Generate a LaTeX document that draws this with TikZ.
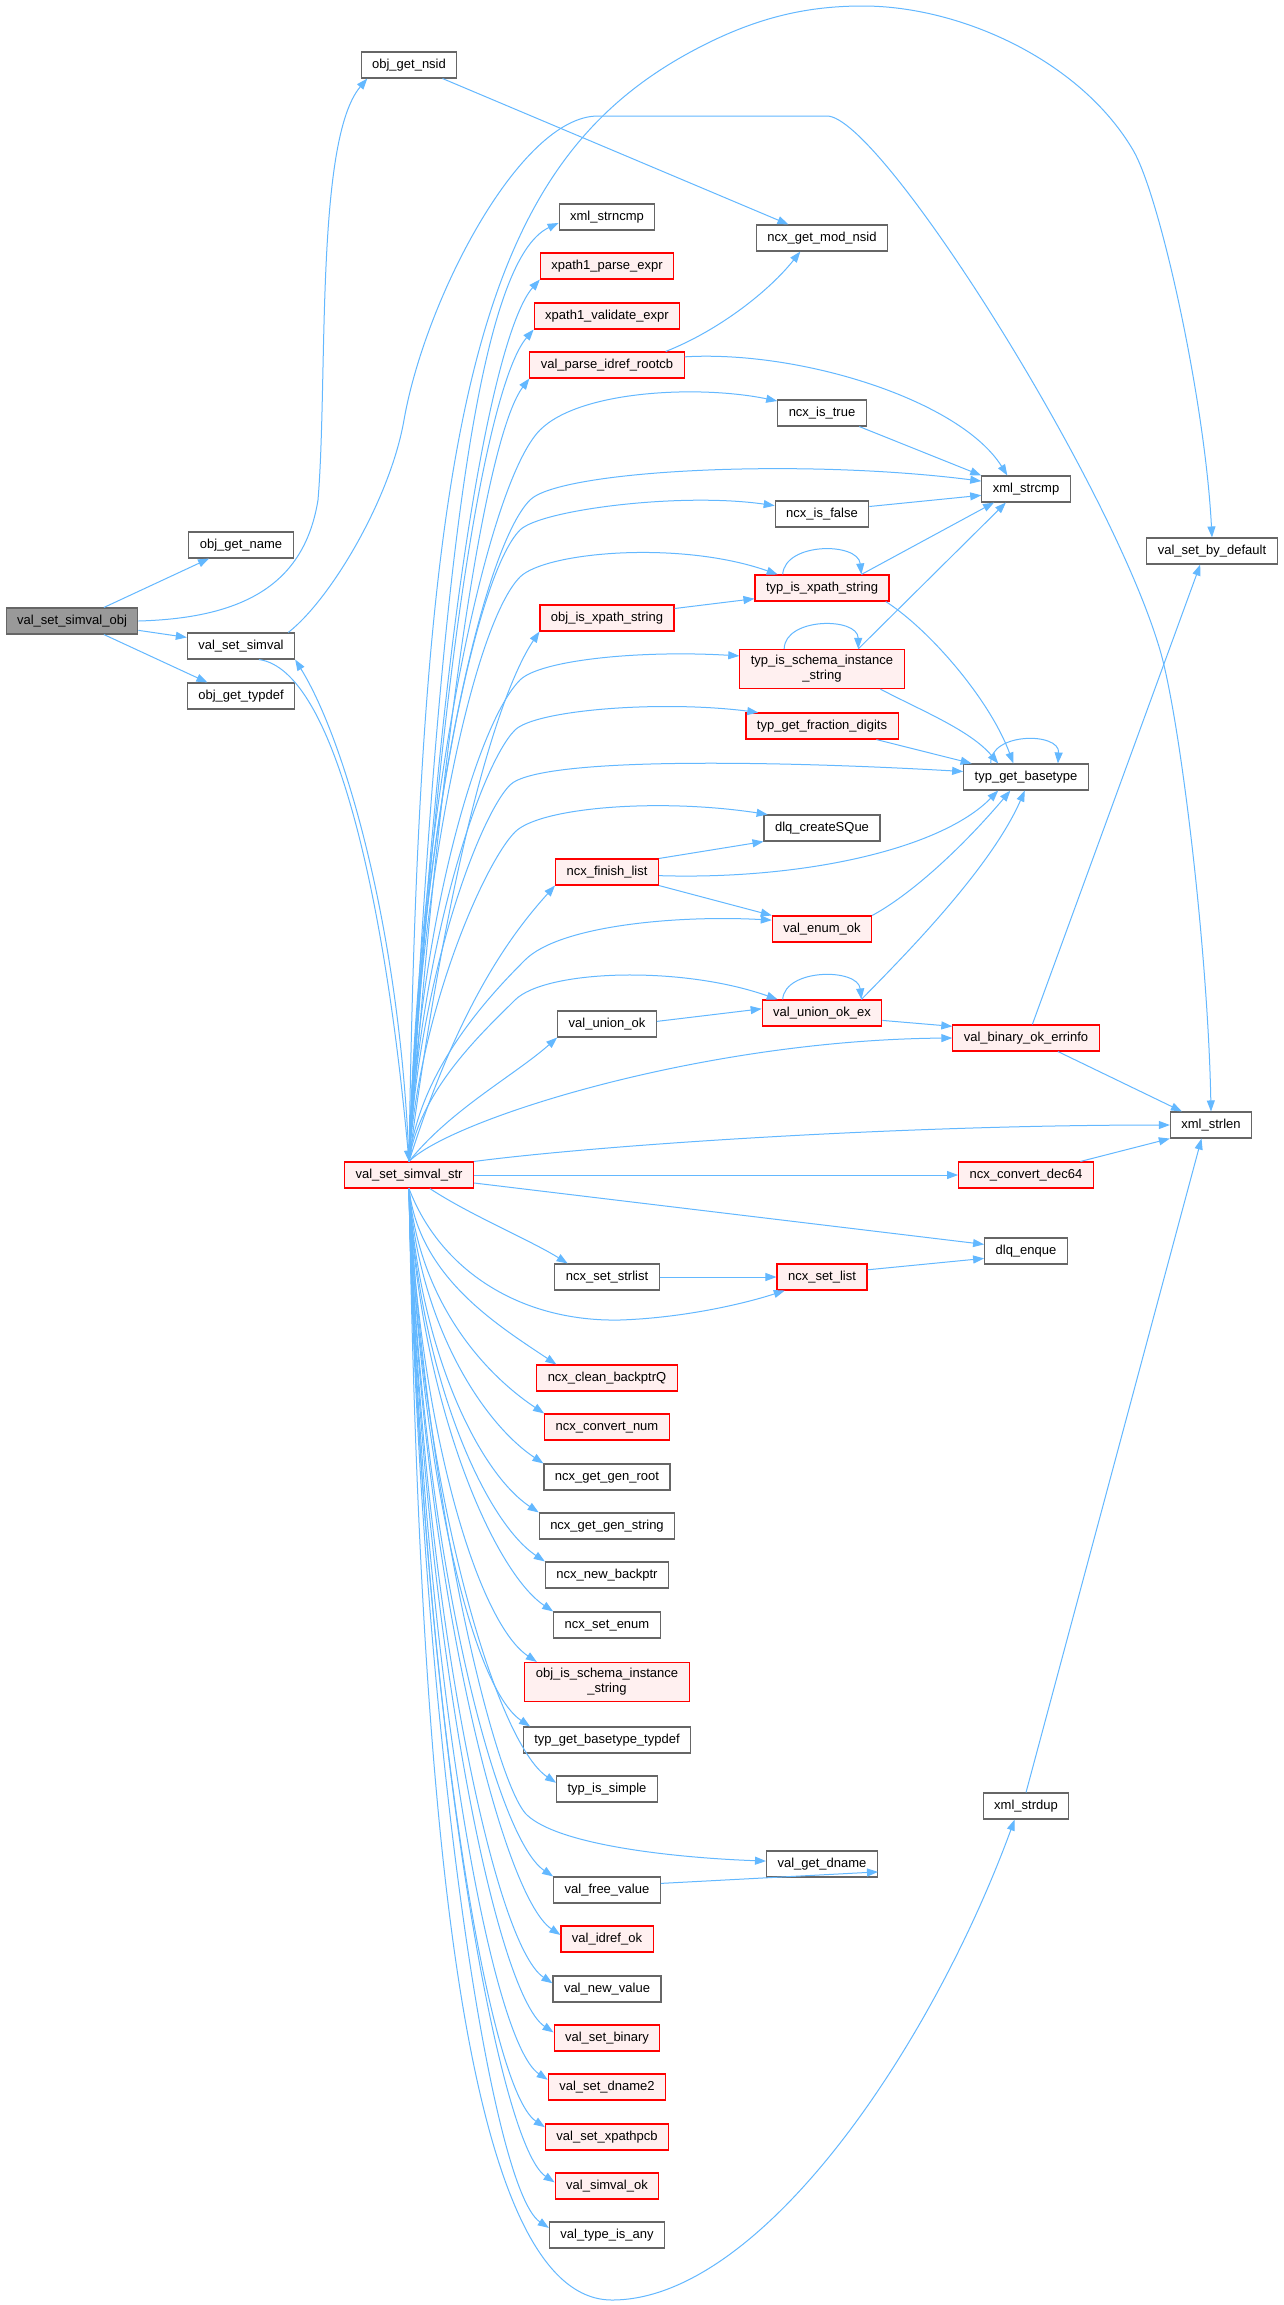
\documentclass[tikz,border=0pt]{standalone}
\usepackage{fontspec}
\setmainfont{Liberation Sans}
\usepackage{tikz}
\usetikzlibrary{arrows.meta}

\definecolor{edgeblue}{HTML}{63B8FF}
\definecolor{boxgray}{HTML}{666666}
\definecolor{boxpink}{HTML}{FFF0F0}
\definecolor{rootgray}{HTML}{999999}

\begin{document}
\begin{tikzpicture}[
    x=1pt, y=-1pt,
    box/.style={draw=boxgray, line width=1.1pt, fill=white, inner xsep=11pt, inner ysep=6pt,
        minimum height=26pt, font=\fontsize{13}{15}\selectfont},
    fn/.style={box, text height=9.5pt, text depth=2.5pt},
    fnred/.style={fn, draw=red, fill=boxpink},
    fnroot/.style={fn, fill=rootgray},
    fntwo/.style={box, draw=red, fill=boxpink, align=center},
    call/.style={draw=edgeblue, line width=1pt, -{Triangle[length=11pt,width=8pt]}}
    ]
    \fill[white] (0,0) rectangle (1283,2305);
    \useasboundingbox (0,0) rectangle (1283,2305);

    % callers on the left
    \node[fnroot] (vsso) at (72,621) {val\_set\_simval\_obj};
    \node[fn] (ogn) at (241,545) {obj\_get\_name};
    \node[fn] (vss) at (241,646) {val\_set\_simval};
    \node[fn] (ogt) at (241,696) {obj\_get\_typdef};
    \node[fn] (ogns) at (409,65) {obj\_get\_nsid};
    \node[fnred] (str) at (409,1175) {val\_set\_simval\_str};

    % third column
    \node[fn] (xsn) at (607,217) {xml\_strncmp};
    \node[fnred] (xpe) at (607,266) {xpath1\_parse\_expr};
    \node[fnred] (xve) at (607,316) {xpath1\_validate\_expr};
    \node[fnred] (vpir) at (607,365) {val\_parse\_idref\_rootcb};
    \node[fnred] (oixs) at (607,618) {obj\_is\_xpath\_string};
    \node[fnred] (nfl) at (607,872) {ncx\_finish\_list};
    \node[fn] (vuo) at (607,1024) {val\_union\_ok};
    \node[fn] (nssl) at (607,1277) {ncx\_set\_strlist};
    \node[fnred] (ncb) at (607,1378) {ncx\_clean\_backptrQ};
    \node[fnred] (ncn) at (607,1427) {ncx\_convert\_num};
    \node[fn] (nggr) at (607,1477) {ncx\_get\_gen\_root};
    \node[fn] (nggs) at (607,1526) {ncx\_get\_gen\_string};
    \node[fn] (nnb) at (607,1575) {ncx\_new\_backptr};
    \node[fn] (nse) at (607,1625) {ncx\_set\_enum};
    \node[fntwo] (oisis) at (607,1682) {obj\_is\_schema\_instance\\\_string};
    \node[fn] (tgbt) at (607,1740) {typ\_get\_basetype\_typdef};
    \node[fn] (tis) at (607,1789) {typ\_is\_simple};
    \node[fn] (vfv) at (607,1890) {val\_free\_value};
    \node[fnred] (vio) at (607,1939) {val\_idref\_ok};
    \node[fn] (vnv) at (607,1989) {val\_new\_value};
    \node[fnred] (vsb) at (607,2038) {val\_set\_binary};
    \node[fnred] (vsd) at (607,2087) {val\_set\_dname2};
    \node[fnred] (vsx) at (607,2137) {val\_set\_xpathpcb};
    \node[fnred] (vso) at (607,2186) {val\_simval\_ok};
    \node[fn] (vtia) at (607,2235) {val\_type\_is\_any};

    % fourth column
    \node[fn] (ngmn) at (822,238) {ncx\_get\_mod\_nsid};
    \node[fn] (nit) at (822,413) {ncx\_is\_true};
    \node[fn] (nif) at (822,514) {ncx\_is\_false};
    \node[fnred] (tixs) at (822,588) {typ\_is\_xpath\_string};
    \node[fntwo] (tisis) at (822,669) {typ\_is\_schema\_instance\\\_string};
    \node[fnred] (tgfd) at (822,726) {typ\_get\_fraction\_digits};
    \node[fn] (dcs) at (822,828) {dlq\_createSQue};
    \node[fnred] (veo) at (822,929) {val\_enum\_ok};
    \node[fnred] (vuoe) at (822,1013) {val\_union\_ok\_ex};
    \node[fnred] (nsl) at (822,1277) {ncx\_set\_list};
    \node[fn] (vgd) at (822,1864) {val\_get\_dname};

    % fifth and sixth columns
    \node[fn] (xsc) at (1026,489) {xml\_strcmp};
    \node[fn] (tgb) at (1026,777) {typ\_get\_basetype};
    \node[fnred] (vboe) at (1026,1038) {val\_binary\_ok\_errinfo};
    \node[fnred] (ncd) at (1026,1175) {ncx\_convert\_dec64};
    \node[fn] (dle) at (1026,1251) {dlq\_enque};
    \node[fn] (xsd) at (1026,1806) {xml\_strdup};
    \node[fn] (vsbd) at (1212,551) {val\_set\_by\_default};
    \node[fn] (xsl) at (1211,1125) {xml\_strlen};

    % val_set_simval_obj
    \draw[call] (vsso.23) -- (ogn.203);
    \draw[call] (vsso.east) .. controls (250,618) and (305,580) .. (318,500)
        .. controls (328,380) and (315,140) .. (ogns.198);
    \draw[call] (vsso.-8) -- (vss.171);
    \draw[call] (vsso.-23) -- (ogt.158);

    % val_set_simval
    \draw[call] (vss.-37) .. controls (335,670) and (385,900) .. (str.north);
    \draw[call] (vss.16) .. controls (330,600) and (390,500) .. (404,420)
        .. controls (425,300) and (520,116) .. (598,116) -- (827,116)
        .. controls (880,116) and (1110,480) .. (1160,650)
        .. controls (1180,718) and (1208,950) .. (xsl.north);
    \draw[call] (ogns.-22) -- (ngmn.158);

    % val_set_simval_str, upwards
    \draw[call] (str.north) .. controls (400,930) and (345,740) .. (vss.south east);
    \draw[call] (str.north) .. controls (420,400) and (480,160) .. (700,47)
        .. controls (760,16) and (810,6) .. (863,6)
        .. controls (960,6) and (1080,60) .. (1133,150)
        .. controls (1160,196) and (1205,400) .. (vsbd.north);
    \draw[call] (str.north) .. controls (440,550) and (480,260) .. (xsn.187);
    \draw[call] (str.north) .. controls (440,600) and (495,330) .. (xpe.south west);
    \draw[call] (str.north) .. controls (440,640) and (490,380) .. (xve.south west);
    \draw[call] (str.north) .. controls (445,680) and (490,430) .. (vpir.south west);
    \draw[call] (str.north) .. controls (450,850) and (500,690) .. (oixs.south west);
    \draw[call] (str.north) .. controls (460,1000) and (515,930) .. (nfl.south west);
    \draw[call] (str.north) .. controls (450,1110) and (515,1075) .. (vuo.south west);
    \draw[call] (str.north) .. controls (419,797) and (488,482) .. (540,430)
        .. controls (580,390) and (700,385) .. (nit.165);
    \draw[call] (str.north) .. controls (419,830) and (482,548) .. (530,500)
        .. controls (560,470) and (800,458) .. (xsc.170);
    \draw[call] (str.north) .. controls (419,850) and (475,575) .. (520,530)
        .. controls (540,510) and (680,492) .. (nif.170);
    \draw[call] (str.north) .. controls (419,870) and (475,622) .. (520,577)
        .. controls (545,552) and (680,540) .. (tixs.163);
    \draw[call] (str.north) .. controls (419,920) and (478,722) .. (520,680)
        .. controls (540,660) and (640,650) .. (tisis.171);
    \draw[call] (str.north) .. controls (419,950) and (480,765) .. (515,730)
        .. controls (535,710) and (660,700) .. (tgfd.168);
    \draw[call] (str.north) .. controls (419,975) and (480,815) .. (510,785)
        .. controls (540,755) and (800,762) .. (tgb.175);
    \draw[call] (str.north) .. controls (419,1010) and (485,862) .. (515,832)
        .. controls (540,807) and (660,798) .. (dcs.166);
    \draw[call] (str.north) .. controls (419,1070) and (490,995) .. (525,960)
        .. controls (560,925) and (680,915) .. (veo.170);
    \draw[call] (str.north) .. controls (419,1090) and (485,1030) .. (515,1000)
        .. controls (545,970) and (680,965) .. (vuoe.163);
    \draw[call] (str.north) .. controls (450,1120) and (700,1040) .. (vboe.west);

    % val_set_simval_str, sideways
    \draw[call] (str.north east) .. controls (600,1145) and (900,1125) .. (xsl.west);
    \draw[call] (str.east) -- (ncd.west);
    \draw[call] (str.-7) -- (dle.171);
    \draw[call] (str.-33) .. controls (470,1215) and (530,1240) .. (nssl.161);
    \draw[call] (str.south) .. controls (440,1270) and (520,1322) .. (620,1320)
        .. controls (680,1318) and (740,1305) .. (nsl.200);

    % val_set_simval_str, downwards
    \draw[call] (str.south) .. controls +(10,88) and +(-60,-40) .. (ncb.165);
    \draw[call] (str.south) .. controls +(10,113) and +(-60,-40) .. (ncn.north west);
    \draw[call] (str.south) .. controls +(10,137) and +(-60,-40) .. (nggr.north west);
    \draw[call] (str.south) .. controls +(10,162) and +(-60,-40) .. (nggs.north west);
    \draw[call] (str.south) .. controls +(10,187) and +(-60,-40) .. (nnb.north west);
    \draw[call] (str.south) .. controls +(10,212) and +(-60,-40) .. (nse.north west);
    \draw[call] (str.south) .. controls +(10,237) and +(-60,-40) .. (oisis.164);
    \draw[call] (str.south) .. controls +(10,270) and +(-60,-40) .. (tgbt.170);
    \draw[call] (str.south) .. controls +(10,297) and +(-60,-40) .. (tis.173);
    \draw[call] (str.south) .. controls (425,1500) and (495,1785) .. (527,1815)
        .. controls (560,1846) and (680,1858) .. (vgd.177);
    \draw[call] (str.south) .. controls +(10,345) and +(-60,-40) .. (vfv.north west);
    \draw[call] (str.south) .. controls +(10,373) and +(-60,-40) .. (vio.175);
    \draw[call] (str.south) .. controls +(10,397) and +(-60,-40) .. (vnv.174);
    \draw[call] (str.south) .. controls +(10,422) and +(-60,-40) .. (vsb.174);
    \draw[call] (str.south) .. controls +(10,446) and +(-60,-40) .. (vsd.173);
    \draw[call] (str.south) .. controls +(10,470) and +(-60,-40) .. (vsx.171);
    \draw[call] (str.south) .. controls +(10,497) and +(-60,-40) .. (vso.176);
    \draw[call] (str.south) .. controls +(10,520) and +(-60,-40) .. (vtia.173);
    \draw[call] (str.south) .. controls (420,1800) and (460,2300) .. (612,2300)
        .. controls (760,2300) and (930,2050) .. (xsd.-130);

    % the rest
    \draw[call] (vpir.13) .. controls (720,330) and (770,290) .. (ngmn.212);
    \draw[call] (vpir.6) .. controls (800,350) and (960,400) .. (xsc.144);
    \draw[call] (nit.-20) -- (xsc.north west);
    \draw[call] (nif.9) -- (xsc.188);
    \draw[call] (tixs.19) -- (xsc.203);
    \draw[call] (tixs.161) .. controls (785,542) and (858,542) .. (tixs.19);
    \draw[call] (tixs.-12) .. controls (930,630) and (990,700) .. (tgb.133);
    \draw[call] (oixs.8) -- (tixs.189);
    \draw[call] (tisis.152) .. controls (785,617) and (858,617) .. (tisis.29);
    \draw[call] (tisis.29) -- (xsc.214);
    \draw[call] (tisis.-19) .. controls (920,710) and (970,730) .. (tgb.154);
    \draw[call] (tgfd.-14) -- (tgb.166);
    \draw[call] (tgb.159) .. controls (990,732) and (1060,732) .. (tgb.23);
    \draw[call] (nfl.north east) -- (dcs.south west);
    \draw[call] (nfl.-4) .. controls (800,880) and (940,850) .. (tgb.-154);
    \draw[call] (nfl.south east) -- (veo.north west);
    \draw[call] (veo.north east) .. controls (910,895) and (960,850) .. (tgb.-139);
    \draw[call] (vuoe.161) .. controls (785,968) and (858,968) .. (vuoe.19);
    \draw[call] (vuoe.19) .. controls (900,960) and (990,870) .. (tgb.-95);
    \draw[call] (vuoe.-7) -- (vboe.171);
    \draw[call] (vuo.3) -- (vuoe.176);
    \draw[call] (vboe.65) -- (vsbd.-131);
    \draw[call] (vboe.-23) -- (xsl.155);
    \draw[call] (ncd.14) -- (xsl.south west);
    \draw[call] (xsd.north) -- (xsl.-125);
    \draw[call] (nssl.east) -- (nsl.west);
    \draw[call] (nsl.9) -- (dle.190);
    \draw[call] (vfv.7) -- (vgd.-8);
\end{tikzpicture}
\end{document}
